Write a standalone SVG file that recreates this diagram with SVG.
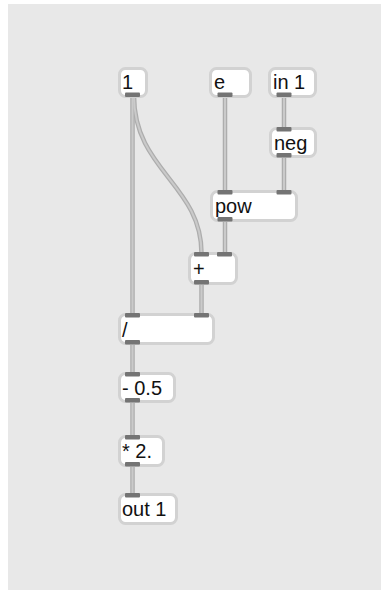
<svg xmlns="http://www.w3.org/2000/svg" width="381" height="590" viewBox="0 0 381 590">
  <style>
    .box { fill: #ffffff; stroke: #d2d2d2; stroke-width: 3; }
    .port { fill: #747474; }
    .cord-o { fill: none; stroke: #adadad; stroke-width: 4.5; }
    .cord-i { fill: none; stroke: #cacaca; stroke-width: 2; }
    .lbl { font-family: "Liberation Sans", Arial, sans-serif; font-size: 20px; fill: #111111; }
  </style>
  <defs>
    <rect id="port" class="port" width="15" height="4.5" rx="1"/>
  </defs>

  <!-- patcher canvas -->
  <rect x="0" y="0" width="381" height="590" fill="#ffffff"/>
  <rect x="8" y="4" width="373" height="586" fill="#e8e8e8"/>

  <!-- patch cords -->
  <g id="cords">
    <g class="cord-o">
      <path d="M132.5,96 L132.5,314"/>
      <path d="M134,96 C134,170 201.5,185 201.5,253"/>
      <path d="M225,96 L225,191"/>
      <path d="M284,96 L284,128"/>
      <path d="M284,157 L284,191"/>
      <path d="M225,221 L225,253"/>
      <path d="M201.5,284 L201.5,314"/>
      <path d="M132.5,344 L132.5,373"/>
      <path d="M132.5,402 L132.5,436"/>
      <path d="M132.5,466 L132.5,494"/>
    </g>
    <g class="cord-i">
      <path d="M132.5,96 L132.5,314"/>
      <path d="M134,96 C134,170 201.5,185 201.5,253"/>
      <path d="M225,96 L225,191"/>
      <path d="M284,96 L284,128"/>
      <path d="M284,157 L284,191"/>
      <path d="M225,221 L225,253"/>
      <path d="M201.5,284 L201.5,314"/>
      <path d="M132.5,344 L132.5,373"/>
      <path d="M132.5,402 L132.5,436"/>
      <path d="M132.5,466 L132.5,494"/>
    </g>
  </g>

  <!-- message / number "1" -->
  <g id="obj-1">
    <rect class="box" x="119.5" y="68.5" width="27" height="28" rx="6"/>
    <text class="lbl" x="122" y="89">1</text>
    <use href="#port" x="125" y="92.5"/>
  </g>

  <g id="obj-e">
    <rect class="box" x="210.5" y="68.5" width="40" height="28" rx="6"/>
    <text class="lbl" x="214" y="89">e</text>
    <use href="#port" x="217.5" y="92.5"/>
  </g>

  <g id="obj-in1">
    <rect class="box" x="269.5" y="68.5" width="46" height="28" rx="6"/>
    <text class="lbl" x="273" y="89">in 1</text>
    <use href="#port" x="276.5" y="92.5"/>
  </g>

  <g id="obj-neg">
    <rect class="box" x="270.5" y="128.5" width="45" height="28" rx="6"/>
    <text class="lbl" x="274" y="150">neg</text>
    <use href="#port" x="276.5" y="127"/>
    <use href="#port" x="276.5" y="153"/>
  </g>

  <g id="obj-pow">
    <rect class="box" x="211.5" y="191.5" width="85" height="29" rx="6"/>
    <text class="lbl" x="215" y="213">pow</text>
    <use href="#port" x="217.5" y="190"/>
    <use href="#port" x="276.5" y="190"/>
    <use href="#port" x="217.5" y="217"/>
  </g>

  <g id="obj-plus">
    <rect class="box" x="189.5" y="253.5" width="47" height="30" rx="6"/>
    <text class="lbl" x="193" y="276">+</text>
    <use href="#port" x="194" y="252"/>
    <use href="#port" x="217" y="252"/>
    <use href="#port" x="194" y="280"/>
  </g>

  <g id="obj-div">
    <rect class="box" x="119.5" y="314.5" width="94" height="29" rx="6"/>
    <text class="lbl" x="122" y="337">/</text>
    <use href="#port" x="125" y="313"/>
    <use href="#port" x="194" y="313"/>
    <use href="#port" x="125" y="340"/>
  </g>

  <g id="obj-minus">
    <rect class="box" x="119.5" y="373.5" width="55" height="28" rx="6"/>
    <text class="lbl" x="122" y="395">- 0.5</text>
    <use href="#port" x="125" y="372"/>
    <use href="#port" x="125" y="398"/>
  </g>

  <g id="obj-times">
    <rect class="box" x="119.5" y="436.5" width="44" height="29" rx="6"/>
    <text class="lbl" x="122" y="458">* 2.</text>
    <use href="#port" x="125" y="435"/>
    <use href="#port" x="125" y="462"/>
  </g>

  <g id="obj-out1">
    <rect class="box" x="119.5" y="494.5" width="57" height="29" rx="6"/>
    <text class="lbl" x="122" y="516">out 1</text>
    <use href="#port" x="125" y="493"/>
  </g>
</svg>
